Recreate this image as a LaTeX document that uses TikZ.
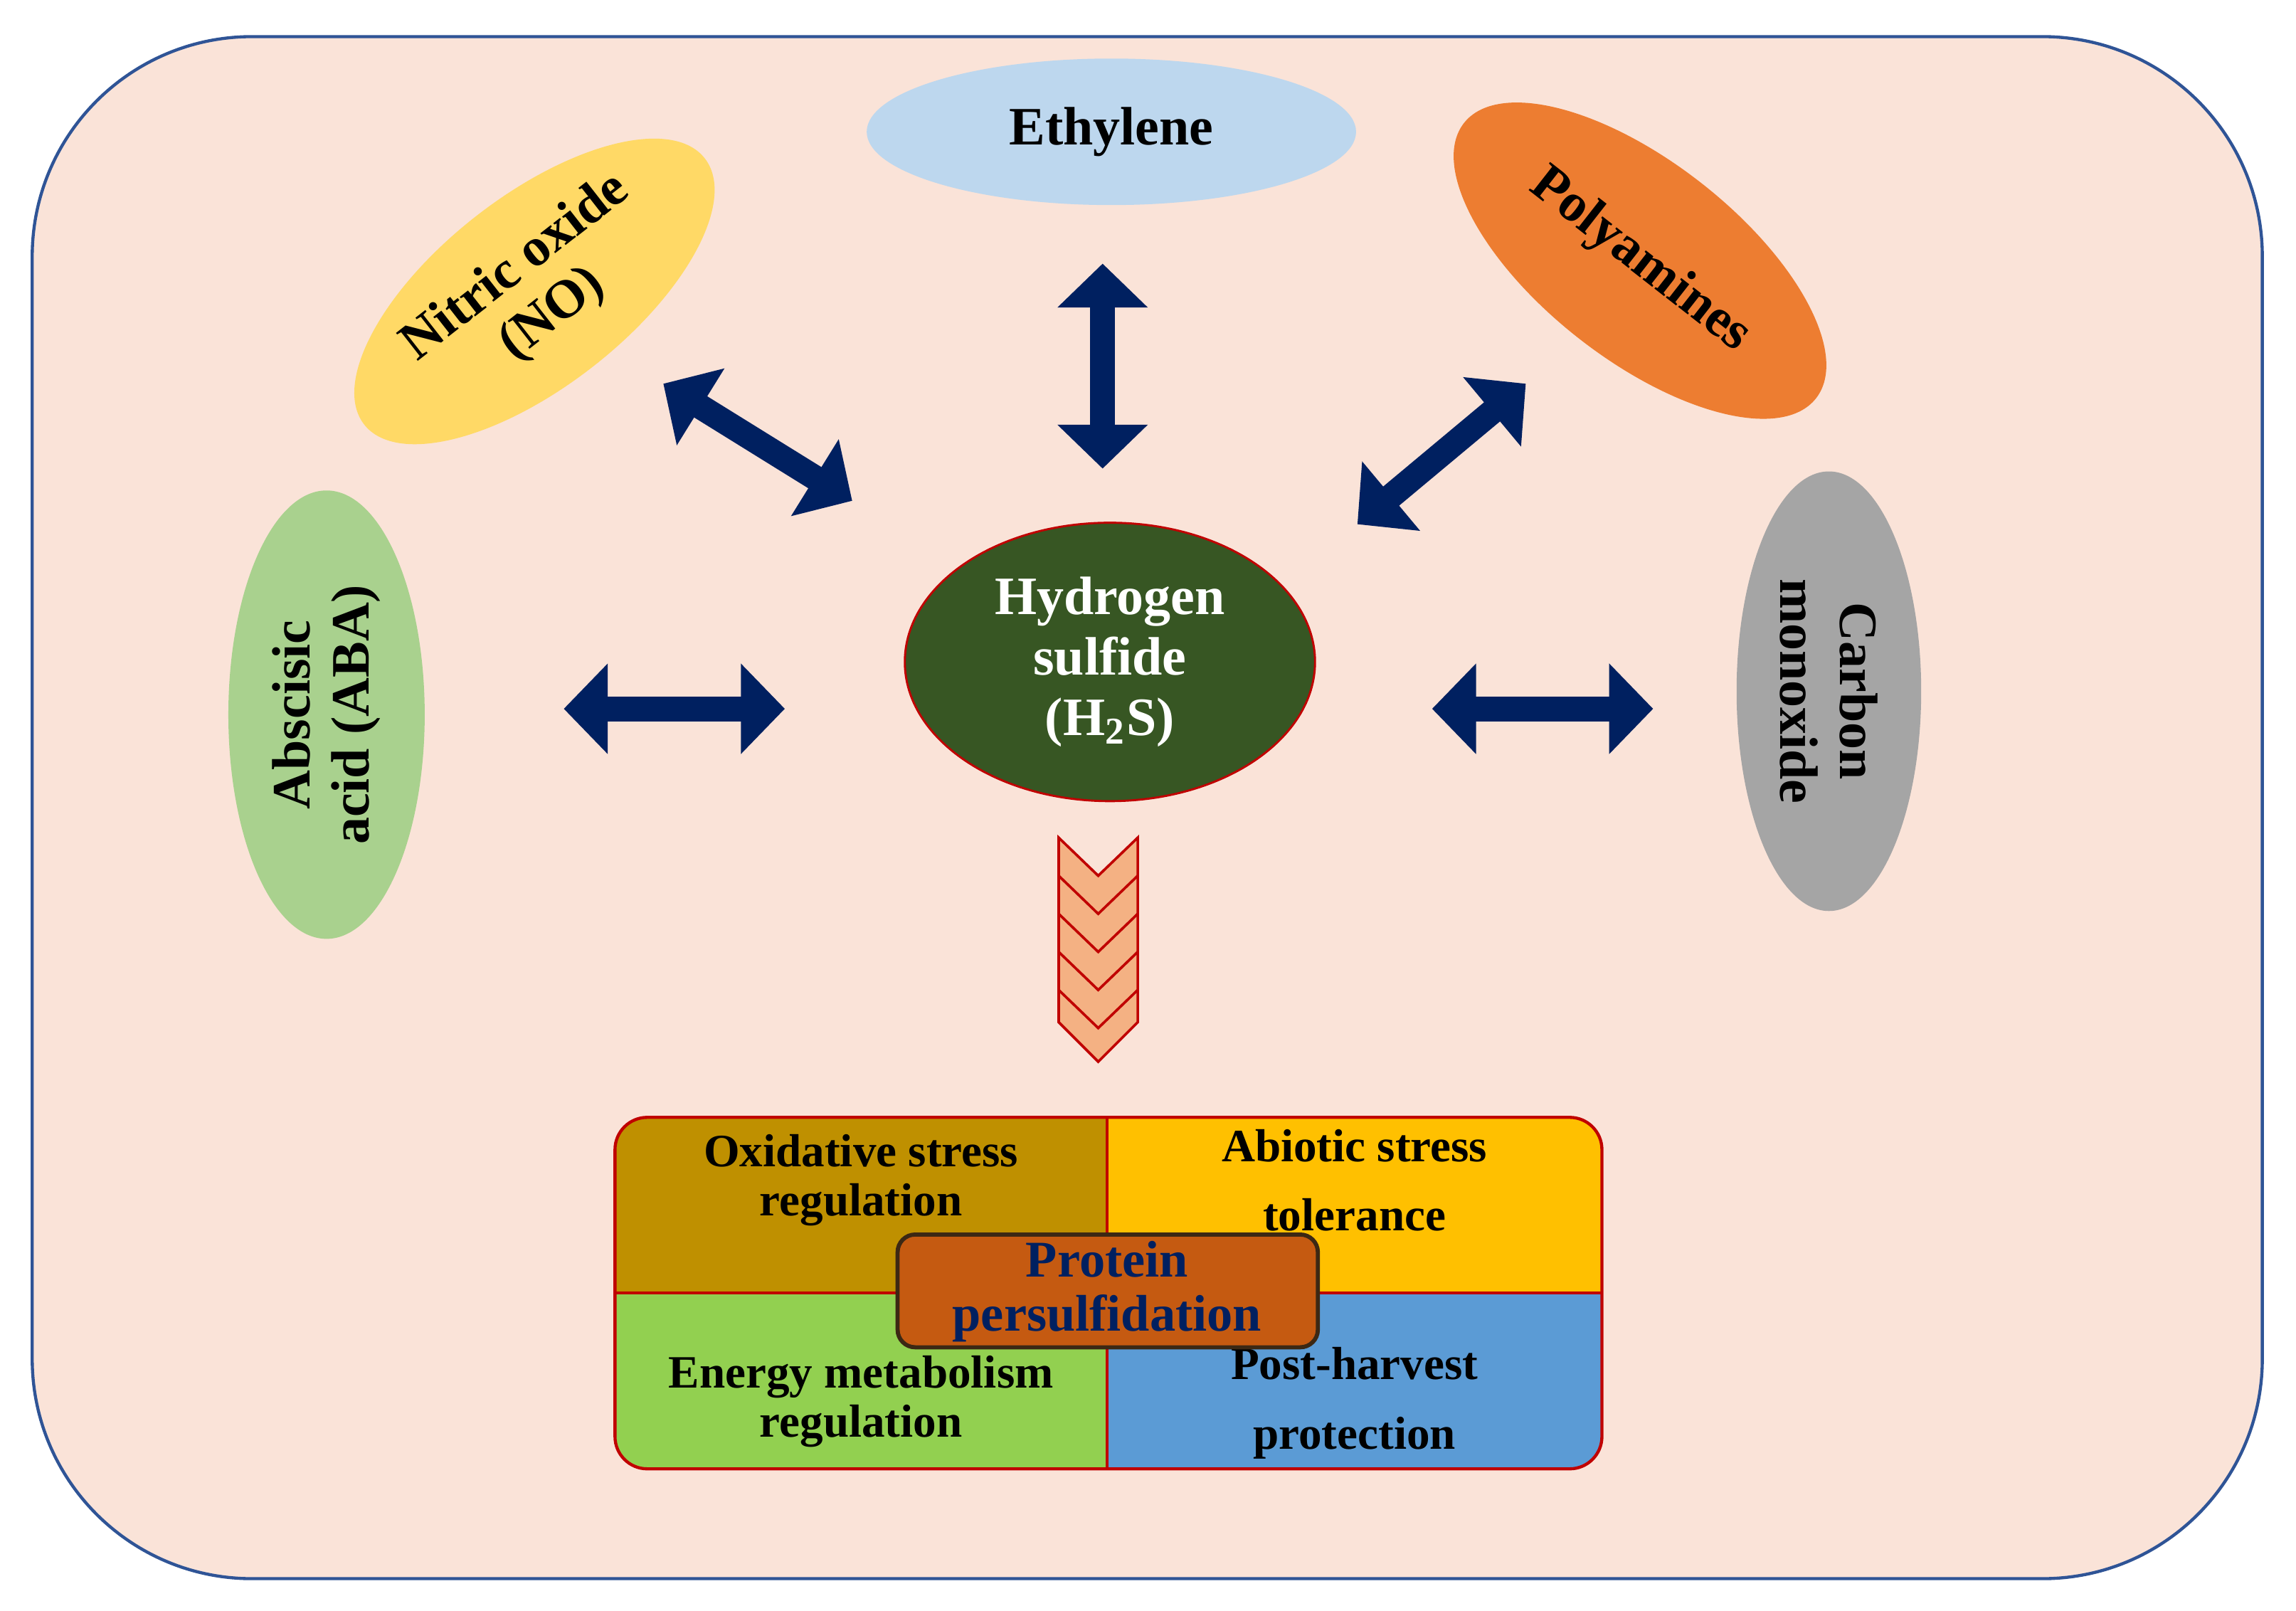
\documentclass[tikz,border=0pt]{standalone}
\usepackage{fontspec}
\setmainfont{Liberation Serif}
\usetikzlibrary{shapes.geometric,arrows.meta}
\definecolor{bgc}{HTML}{FAE3D8}
\definecolor{navy}{HTML}{002060}
\definecolor{frame}{HTML}{2F5496}
\definecolor{ethc}{HTML}{BDD7EE}
\definecolor{noc}{HTML}{FFD966}
\definecolor{pac}{HTML}{ED7D31}
\definecolor{abac}{HTML}{A9D18E}
\definecolor{coc}{HTML}{A5A5A5}
\definecolor{hsc}{HTML}{375623}
\definecolor{redc}{HTML}{C00000}
\definecolor{chev}{HTML}{F4B183}
\definecolor{tlc}{HTML}{BF9000}
\definecolor{trc}{HTML}{FFC000}
\definecolor{blc}{HTML}{92D050}
\definecolor{brc}{HTML}{5B9BD5}
\definecolor{ppc}{HTML}{C55A11}
\definecolor{ppb}{HTML}{3C2814}
\begin{document}
\begin{tikzpicture}[x=0.01cm,y=-0.01cm,
  ell/.style={ellipse,inner sep=0pt,font=\bfseries\fontsize{10.5}{11.5}\selectfont,align=center},
  dbl/.style={navy,line width=0.17cm,{Triangle[length=0.3cm,width=0.6cm]}-{Triangle[length=0.3cm,width=0.6cm]}},
  cell/.style={font=\bfseries\fontsize{9}{9.5}\selectfont,align=center}]
\useasboundingbox (0,0) rectangle (1568,1100);
\draw[draw=frame,fill=bgc,line width=0.6pt,rounded corners=1.5cm] (22,25) rectangle (1545,1078);
\node[ell,fill=ethc,minimum width=3.34cm,minimum height=1cm] (eth) at (759,90) {Ethylene};
\node[ell,fill=noc,minimum width=2.95cm,minimum height=1.3cm,rotate=38] (no) at (365,199) {Nitric oxide\\(NO)};
\node[ell,fill=pac,minimum width=3.05cm,minimum height=1.35cm,rotate=-38] (pa) at (1120,178) {Polyamines};
\node[ell,fill=abac,minimum width=3.06cm,minimum height=1.34cm,rotate=90] (aba) at (223,488) {Abscisic\\acid (ABA)};
\node[ell,fill=coc,minimum width=3.0cm,minimum height=1.26cm,rotate=-90] (co) at (1249,472) {Carbon\\monoxide};
\node[ell,fill=hsc,draw=redc,text=white,minimum width=2.8cm,minimum height=1.9cm,font=\bfseries\fontsize{10.5}{11.8}\selectfont] (h2s) at (758,452) {Hydrogen\\sulfide\\(H\textsubscript{2}S)};
\coordinate (a1) at (753,180); \coordinate (a2) at (753,320);
\coordinate (b1) at (453,262); \coordinate (b2) at (582,342);
\coordinate (c1) at (1042,262); \coordinate (c2) at (927,358);
\coordinate (d1) at (385,484); \coordinate (d2) at (536,484);
\coordinate (e1) at (978,484); \coordinate (e2) at (1129,484);
\draw[dbl] (a1)--(a2); \draw[dbl] (b1)--(b2); \draw[dbl] (c1)--(c2);
\draw[dbl] (d1)--(d2); \draw[dbl] (e1)--(e2);
\draw[fill=chev,draw=redc,line width=0.5pt]
 (723,572)--(750,598)--(777,572)--(777,698)--(750,725)--(723,698)--cycle;
\foreach \k in {1,2,3,4}{\draw[draw=redc,line width=0.5pt] (723,572+26*\k)--(750,598+26*\k)--(777,572+26*\k);}
\begin{scope}
\clip[rounded corners=0.22cm] (420,763) rectangle (1094,1003);
\fill[tlc] (420,763) rectangle (756,883);
\fill[trc] (756,763) rectangle (1094,883);
\fill[blc] (420,883) rectangle (756,1003);
\fill[brc] (756,883) rectangle (1094,1003);
\end{scope}
\draw[redc,line width=0.6pt] (756,763)--(756,1003) (420,883)--(1094,883);
\draw[redc,line width=0.6pt,rounded corners=0.22cm] (420,763) rectangle (1094,1003);
\node[cell] (t1) at (588,806) {Oxidative stress\\regulation};
\node[cell] (t2) at (925,806) {Abiotic stress\\[4pt]tolerance};
\node[cell] (t3) at (588,957) {Energy metabolism\\regulation};
\node[cell] (t4) at (925,958) {Post-harvest\\[4pt]protection};
\draw[fill=ppc,draw=ppb,line width=0.8pt,rounded corners=0.12cm] (613,843) rectangle (900,920);
\node[font=\bfseries\fontsize{10}{10.5}\selectfont,text=navy,align=center] (pp) at (756,882) {Protein\\persulfidation};
\end{tikzpicture}
\end{document}
